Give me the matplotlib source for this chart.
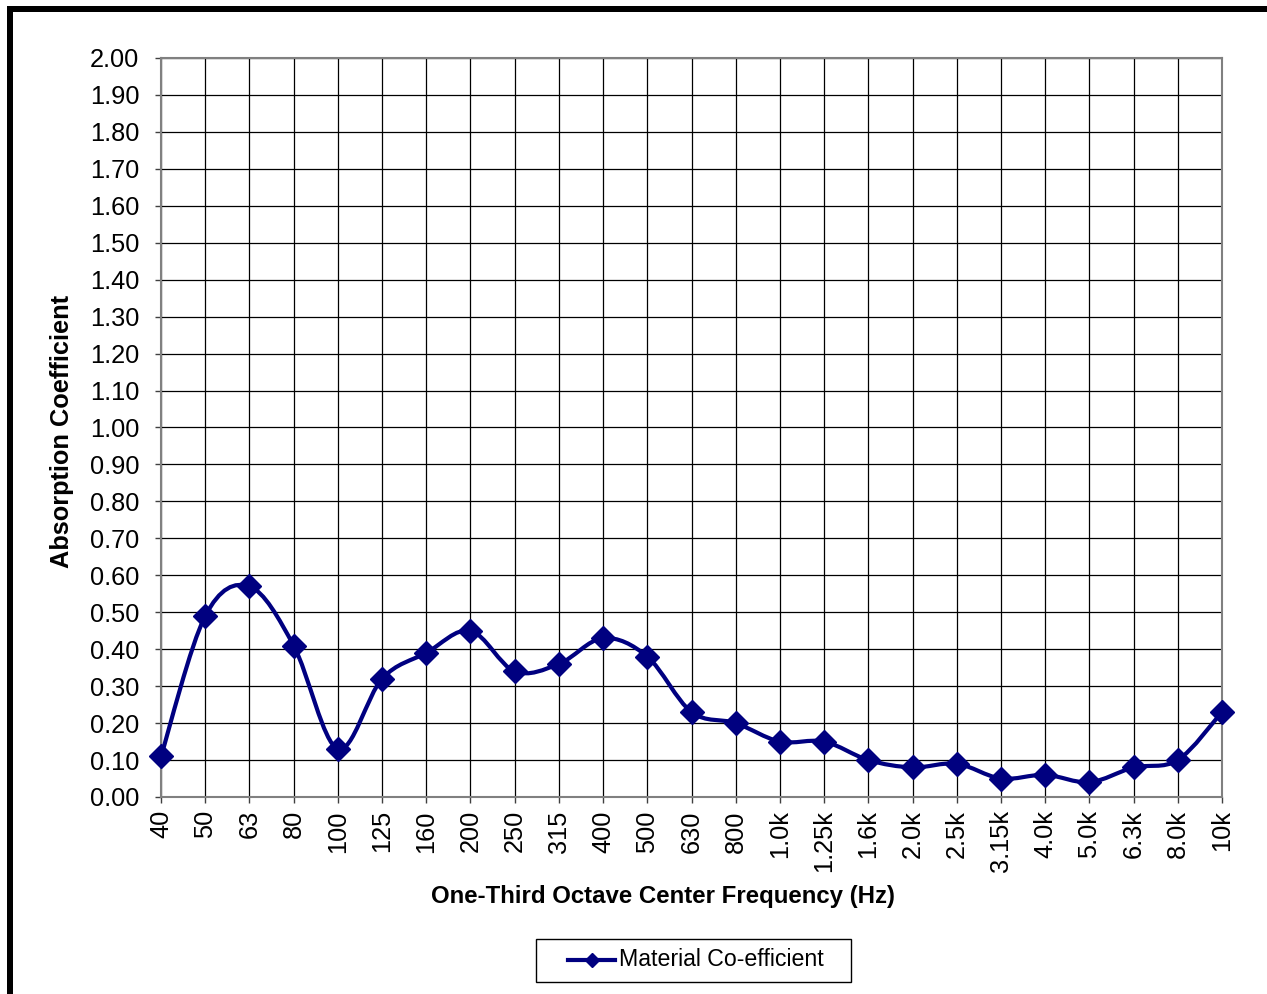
import matplotlib

matplotlib.use("Agg")
import matplotlib.pyplot as plt  # noqa: E402
import numpy as np  # noqa: E402
from matplotlib.lines import Line2D  # noqa: E402
from matplotlib.patches import PathPatch, Rectangle  # noqa: E402
from matplotlib.path import Path  # noqa: E402

plt.rcParams["font.family"] = ["Liberation Sans", "DejaVu Sans"]

freq_labels = ["40", "50", "63", "80", "100", "125", "160", "200", "250", "315",
               "400", "500", "630", "800", "1.0k", "1.25k", "1.6k", "2.0k", "2.5k",
               "3.15k", "4.0k", "5.0k", "6.3k", "8.0k", "10k"]
coefficients = [0.11, 0.49, 0.57, 0.41, 0.13, 0.32, 0.39, 0.45, 0.34, 0.36,
                0.43, 0.38, 0.23, 0.20, 0.15, 0.15, 0.10, 0.08, 0.09,
                0.05, 0.06, 0.04, 0.08, 0.10, 0.23]
y_ticks = [i / 10 for i in range(21)]
series_name = "Material Co-efficient"

NAVY = "#000080"
W, H = 1267, 994


def smooth_path(xs, ys):
    # Excel-style smoothed line: Catmull-Rom tangents as cubic Bezier segments
    pts = np.column_stack([xs, ys]).astype(float)
    ext = np.vstack([pts[0], pts, pts[-1]])
    verts = [pts[0]]
    codes = [Path.MOVETO]
    for i in range(len(pts) - 1):
        p0, p1, p2, p3 = ext[i], ext[i + 1], ext[i + 2], ext[i + 3]
        verts += [p1 + (p2 - p0) / 6, p2 - (p3 - p1) / 6, p2]
        codes += [Path.CURVE4] * 3
    return Path(verts, codes)


def fx(px):
    return px / W


def fy(py):
    return 1 - py / H


fig = plt.figure(figsize=(W / 100, H / 100), dpi=100)
ax = fig.add_axes([fx(161), fy(797), (1222 - 161) / W, (797 - 58) / H])

x = np.arange(len(coefficients))
ax.add_patch(PathPatch(smooth_path(x, coefficients), facecolor="none",
                       edgecolor=NAVY, lw=3, zorder=3, capstyle="round"))
ax.plot(x, coefficients, linestyle="none", marker="D", ms=12,
        color=NAVY, zorder=4, clip_on=False)

ax.set_xlim(0, len(coefficients) - 1)
ax.set_ylim(0, 2.0)
ax.set_xticks(x)
ax.set_xticklabels(freq_labels, rotation=90, fontsize=18.3)
ax.set_yticks(y_ticks)
ax.set_yticklabels([f"{v:.2f}" for v in y_ticks], fontsize=18.3)
ax.tick_params(axis="y", direction="out", length=4.5, width=1, pad=11, color="#404040")
ax.tick_params(axis="x", direction="out", length=4.5, width=1, pad=5, color="#404040")
ax.grid(True, color="black", lw=0.9)
ax.set_axisbelow(True)
for s in ax.spines.values():
    s.set_color("#808080")
    s.set_linewidth(1.5)

ax.set_xlabel("One-Third Octave Center Frequency (Hz)", fontsize=17.3,
              fontweight="bold")
ax.xaxis.set_label_coords((663 - 161) / (1222 - 161), -(896 - 797) / (797 - 58))
ax.xaxis.label.set_va("center")
ax.set_ylabel("Absorption Coefficient", fontsize=18.3, fontweight="bold")
ax.yaxis.set_label_coords(-(161 - 62) / (1222 - 161), (797 - 431) / (797 - 58))
ax.yaxis.label.set_va("center")

# legend box drawn by hand so the padding matches the Excel layout
fig.add_artist(Rectangle((fx(536), fy(982)), (851 - 536) / W, (982 - 939) / H,
                         transform=fig.transFigure, facecolor="white",
                         edgecolor="black", lw=1.0))
fig.add_artist(Line2D([fx(568), fx(591.5), fx(615)], [fy(960)] * 3,
                      transform=fig.transFigure, color=NAVY, lw=3,
                      marker="D", ms=7, markevery=[1]))
fig.text(fx(619), fy(960), series_name, fontsize=16.7, va="center", ha="left")

# thick black frame (left and top edges only are visible in the crop)
fig.add_artist(Rectangle((fx(7), 0), 6 / W, fy(6),
                         transform=fig.transFigure, color="black", lw=0))
fig.add_artist(Rectangle((fx(7), fy(12)), 1, 6 / H,
                         transform=fig.transFigure, color="black", lw=0))

fig.savefig("out.png", dpi=100)
